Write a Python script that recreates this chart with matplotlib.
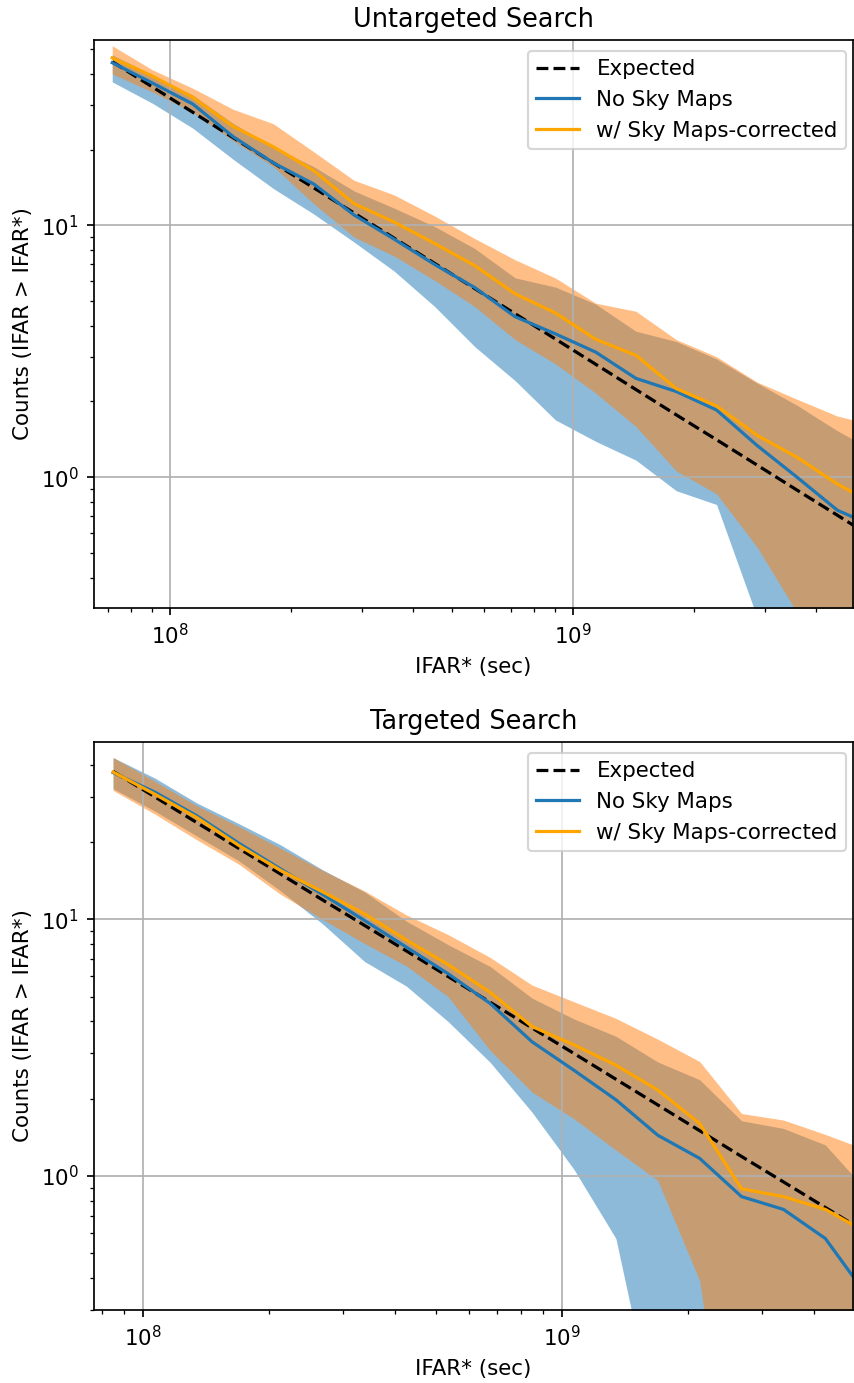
import matplotlib
matplotlib.use("Agg")
import matplotlib.pyplot as plt

# ---------------- Untargeted search ----------------
ut_ifar = [7.18e7, 9.04e7, 1.138e8, 1.432e8, 1.803e8, 2.27e8, 2.858e8, 3.598e8, 4.529e8, 5.702e8,
           7.178e8, 9.036e8, 1.1376e9, 1.432e9, 1.803e9, 2.27e9, 2.858e9, 3.598e9, 4.529e9, 5.702e9]
ut_expected = [44.6, 35.4, 28.1, 22.3, 17.7, 14.1, 11.2, 8.89, 7.07, 5.61,
               4.46, 3.54, 2.81, 2.23, 1.77, 1.41, 1.12, 0.889, 0.707, 0.561]
ut_nosky = [44.2, 36.7, 30.3, 22.5, 17.7, 14.6, 11.0, 8.81, 7.0, 5.66,
            4.34, 3.71, 3.14, 2.47, 2.19, 1.85, 1.34, 1.0, 0.74, 0.63]
ut_nosky_lo = [37.1, 30.5, 24.3, 18.3, 14.0, 11.1, 8.59, 6.58, 4.77, 3.30,
               2.42, 1.69, 1.39, 1.17, 0.885, 0.78, 0.28, 0.05, 0.05, 0.05]
ut_nosky_hi = [47.5, 39.5, 32.9, 25.4, 20.5, 17.1, 13.7, 11.7, 9.9, 8.09,
               6.19, 5.69, 4.87, 3.80, 3.46, 2.95, 2.37, 1.93, 1.53, 1.25]
ut_sky = [46.2, 39.1, 32.2, 24.7, 20.5, 16.5, 12.2, 10.3, 8.48, 6.92,
          5.35, 4.49, 3.53, 3.05, 2.25, 1.92, 1.47, 1.20, 0.94, 0.77]
ut_sky_lo = [39.9, 33.8, 28.1, 21.7, 17.1, 12.2, 8.99, 7.55, 6.05, 4.76,
             3.52, 2.82, 2.16, 1.59, 1.06, 0.86, 0.53, 0.29, 0.05, 0.05]
ut_sky_hi = [51.6, 41.4, 35.0, 28.9, 25.3, 19.6, 15.1, 13.2, 10.9, 8.86,
             7.30, 6.18, 4.91, 4.56, 3.52, 3.01, 2.39, 2.04, 1.75, 1.60]

# ---------------- Targeted search ----------------
t_ifar = [8.485e7, 1.068e8, 1.345e8, 1.693e8, 2.131e8, 2.683e8, 3.378e8, 4.252e8, 5.353e8, 6.739e8,
          8.485e8, 1.068e9, 1.345e9, 1.693e9, 2.131e9, 2.683e9, 3.378e9, 4.252e9, 5.353e9]
t_expected = [37.7, 30.0, 23.8, 18.9, 15.0, 11.9, 9.47, 7.53, 5.98, 4.75,
              3.77, 3.0, 2.38, 1.89, 1.50, 1.19, 0.947, 0.753, 0.598]
t_nosky = [37.3, 31.3, 25.3, 19.8, 15.7, 12.5, 9.90, 7.79, 6.13, 4.70,
           3.33, 2.58, 1.98, 1.44, 1.17, 0.83, 0.74, 0.57, 0.34]
t_nosky_lo = [32.3, 26.4, 21.1, 16.9, 12.9, 9.6, 6.85, 5.49, 3.99, 2.77,
              1.77, 1.06, 0.57, 0.1, 0.03, 0.03, 0.03, 0.03, 0.03]
t_nosky_hi = [42.7, 35.5, 28.4, 23.6, 19.5, 15.6, 12.8, 9.84, 7.96, 6.55,
              4.93, 4.09, 3.50, 2.78, 2.37, 1.64, 1.53, 1.32, 0.87]
t_sky = [37.5, 30.7, 24.9, 19.4, 15.5, 12.8, 10.5, 8.30, 6.65, 5.19,
         3.82, 3.24, 2.70, 2.16, 1.60, 0.89, 0.83, 0.74, 0.60]
t_sky_lo = [31.8, 25.7, 20.4, 16.4, 12.5, 10.0, 8.05, 6.58, 4.99, 3.08,
            2.12, 1.67, 1.26, 0.96, 0.39, 0.03, 0.03, 0.03, 0.03]
t_sky_hi = [42.7, 34.5, 27.7, 23.0, 18.9, 15.5, 12.9, 10.4, 8.71, 7.10,
            5.54, 4.77, 4.11, 3.41, 2.79, 1.75, 1.65, 1.45, 1.26]

titles = ["Untargeted Search", "Targeted Search"]
labels = ["Expected", "No Sky Maps", "w/ Sky Maps-corrected"]

W, H = 854, 1383
DPI = 154
fig = plt.figure(figsize=(W / DPI, H / DPI), dpi=DPI)
ax_top = fig.add_axes([94 / W, 1 - 608 / H, 759 / W, 568 / H])
ax_bot = fig.add_axes([94 / W, 1 - 1310 / H, 759 / W, 568 / H])

panels = [
    (ax_top, ut_ifar, ut_expected, ut_nosky, ut_nosky_lo, ut_nosky_hi, ut_sky, ut_sky_lo, ut_sky_hi,
     (6.47e7, 4.95e9), (0.303, 54.4)),
    (ax_bot, t_ifar, t_expected, t_nosky, t_nosky_lo, t_nosky_hi, t_sky, t_sky_lo, t_sky_hi,
     (7.64e7, 4.95e9), (0.30, 49.1)),
]

for i, (ax, x, exp, ns, nslo, nshi, s, slo, shi, xl, yl) in enumerate(panels):
    ax.fill_between(x, nslo, nshi, color="C0", alpha=0.5, linewidth=0)
    ax.fill_between(x, slo, shi, color="C1", alpha=0.5, linewidth=0)
    ax.plot(x, exp, "k--", label=labels[0])
    ax.plot(x, ns, color="C0", label=labels[1])
    ax.plot(x, s, color="orange", label=labels[2])
    ax.set_xscale("log")
    ax.set_yscale("log")
    ax.set_xlim(*xl)
    ax.set_ylim(*yl)
    ax.grid(True, which="major")
    ax.set_title(titles[i])
    ax.set_xlabel("IFAR* (sec)")
    ax.set_ylabel("Counts (IFAR > IFAR*)")
    ax.legend(loc="upper right", bbox_to_anchor=(1 + 4 / 759, 1))

fig.savefig("out.png", dpi=DPI)
